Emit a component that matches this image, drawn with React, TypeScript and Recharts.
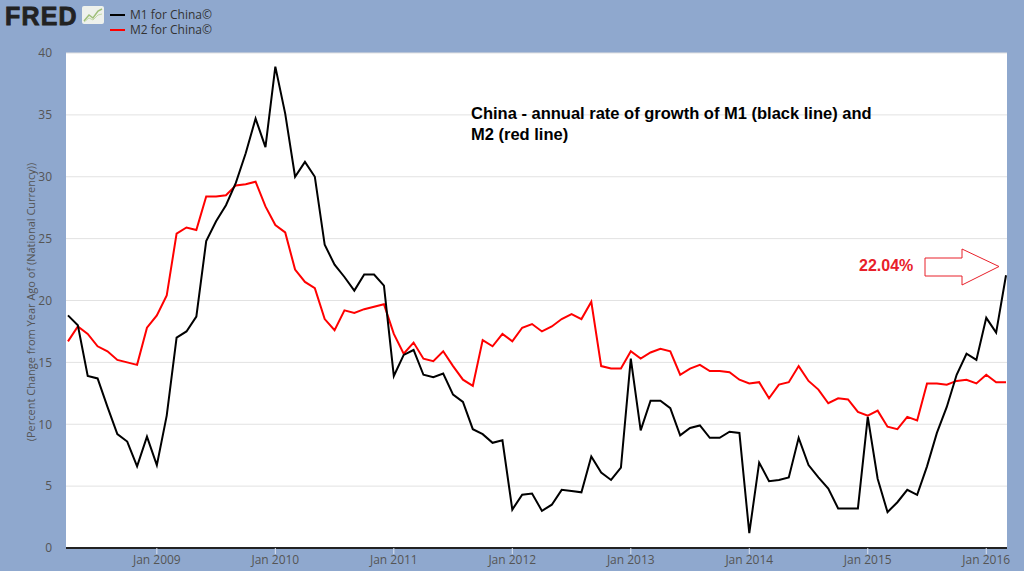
import { LineChart, Line, XAxis, YAxis, CartesianGrid } from 'recharts';

// monthly series, Apr 2008 .. Mar 2016 (96 months)
const startYear = 2008;
const startMonth = 3; // April, 0-based

const m1China = [
  18.8, 18.0, 13.9, 13.7, 11.4, 9.2, 8.6, 6.6, 9.0,
  6.7, 10.7, 17.0, 17.5, 18.7, 24.8, 26.4, 27.7, 29.5, 31.9, 34.7, 32.4,
  38.9, 35.1, 30.0, 31.2, 30.0, 24.5, 22.9, 21.9, 20.8, 22.1, 22.1, 21.2,
  13.9, 15.6, 16.0, 14.0, 13.8, 14.1, 12.4, 11.8, 9.6, 9.2, 8.5, 8.7,
  3.1, 4.3, 4.4, 3.0, 3.5, 4.7, 4.6, 4.5, 7.4, 6.1, 5.5, 6.5,
  15.3, 9.5, 11.9, 11.9, 11.3, 9.1, 9.7, 9.9, 8.9, 8.9, 9.4, 9.3,
  1.2, 6.9, 5.4, 5.5, 5.7, 8.9, 6.7, 5.7, 4.8, 3.2, 3.2, 3.2,
  10.6, 5.6, 2.9, 3.7, 4.7, 4.3, 6.6, 9.3, 11.4, 14.0, 15.7, 15.2,
  18.6, 17.4, 22.04,
];

const m2China = [
  16.7, 17.9, 17.3, 16.3, 15.9, 15.2, 15.0, 14.8, 17.8,
  18.8, 20.4, 25.4, 25.9, 25.7, 28.4, 28.4, 28.5, 29.3, 29.4, 29.6, 27.6,
  26.1, 25.5, 22.5, 21.5, 21.0, 18.5, 17.6, 19.2, 19.0, 19.3, 19.5, 19.7,
  17.3, 15.7, 16.6, 15.3, 15.1, 15.9, 14.7, 13.6, 13.1, 16.8, 16.3, 17.3,
  16.7, 17.8, 18.1, 17.5, 17.9, 18.5, 18.9, 18.5, 19.9, 14.7, 14.5, 14.5,
  15.9, 15.3, 15.8, 16.1, 15.9, 14.0, 14.5, 14.8, 14.3, 14.3, 14.2, 13.6,
  13.3, 13.4, 12.1, 13.2, 13.4, 14.7, 13.5, 12.8, 11.7, 12.1, 12.0, 11.0,
  10.7, 11.1, 9.8, 9.6, 10.6, 10.3, 13.3, 13.3, 13.2, 13.5, 13.6, 13.3,
  14.0, 13.4, 13.4,
];

const tickYears = [2009, 2010, 2011, 2012, 2013, 2014, 2015, 2016];
const yTicks = [0, 5, 10, 15, 20, 25, 30, 35, 40];

const data = m1China.map((v, i) => ({ t: i, m1: v, m2: m2China[i] }));
const xTicks = tickYears.map((y) => (y - startYear) * 12 - startMonth);
const tickLabel = (t: number) => 'Jan ' + (startYear + Math.floor((t + startMonth) / 12));

const BG = '#8fa8ce';
const RED = '#e8202a';

export default function App() {
  return (
    <div style={{ position: 'absolute', left: 0, top: 0, width: 1024, height: 571, background: BG, overflow: 'hidden', fontFamily: '"Open Sans", sans-serif' }}>
      <LineChart width={1024} height={571} data={data} margin={{ top: 53, right: 17, bottom: 0, left: 0 }}>
        <CartesianGrid horizontal vertical={false} stroke="#e2e2e2" fill="#ffffff" fillOpacity={1} />
        <XAxis
          dataKey="t"
          type="number"
          domain={[-0.2, 95.1]}
          ticks={xTicks}
          tickFormatter={tickLabel}
          height={23}
          axisLine={{ stroke: '#222', strokeWidth: 2 }}
          tickLine={{ stroke: '#dfe5f0', strokeWidth: 1 }}
          tickSize={6}
          tick={{ fill: '#555', fontSize: 12, fontFamily: '"Open Sans", sans-serif' }}
          tickMargin={1}
        />
        <YAxis
          domain={[0, 40]}
          ticks={yTicks}
          width={66}
          axisLine={false}
          tickLine={false}
          tickSize={0}
          tickMargin={14}
          tick={{ fill: '#555', fontSize: 12, fontFamily: '"Open Sans", sans-serif' }}
        />
        <Line type="linear" dataKey="m2" stroke="#ff0000" strokeWidth={2} dot={false} isAnimationActive={false} />
        <Line type="linear" dataKey="m1" stroke="#000000" strokeWidth={2} dot={false} isAnimationActive={false} />
      </LineChart>

      {/* FRED logo + legend */}
      <div style={{ position: 'absolute', left: 5, top: 2, fontFamily: '"Liberation Sans", Arial, sans-serif', fontWeight: 'bold', fontSize: 25, lineHeight: '28px', letterSpacing: 1.2, color: '#222', WebkitTextStroke: '0.8px #222' }}>FRED</div>
      <svg style={{ position: 'absolute', left: 82, top: 6 }} width={22} height={18}>
        <rect x={0} y={0} width={22} height={18} rx={2} fill="#eef1ec" />
        <polyline points="2,15 7,9 11,12 16,5 20,3" fill="none" stroke="#9fbf7a" strokeWidth={1.5} />
        <polyline points="2,16 7,12 11,14 16,9 20,8" fill="none" stroke="#c3d8a8" strokeWidth={1} />
      </svg>
      <div style={{ position: 'absolute', left: 110, top: 14, width: 15, height: 2, background: '#000' }} />
      <div style={{ position: 'absolute', left: 130, top: 6, fontSize: 12, color: '#333' }}>M1 for China©</div>
      <div style={{ position: 'absolute', left: 110, top: 29, width: 15, height: 2, background: '#ff0000' }} />
      <div style={{ position: 'absolute', left: 130, top: 21, fontSize: 12, color: '#333' }}>M2 for China©</div>

      {/* y axis title */}
      <div style={{ position: 'absolute', left: 31, top: 302, width: 400, marginLeft: -200, marginTop: -7, textAlign: 'center', transform: 'rotate(-90deg)', fontSize: 11, color: '#555', lineHeight: '14px' }}>
        (Percent Change from Year Ago of (National Currency))
      </div>

      {/* annotation */}
      <div style={{ position: 'absolute', left: 471, top: 103, fontFamily: '"Liberation Sans", Arial, sans-serif', fontWeight: 'bold', fontSize: 16.5, lineHeight: '21px', color: '#000' }}>
        China - annual rate of growth of M1 (black line) and<br />M2 (red line)
      </div>
      <div style={{ position: 'absolute', left: 859, top: 257, fontFamily: '"Liberation Sans", Arial, sans-serif', fontWeight: 'bold', fontSize: 16, color: RED }}>22.04%</div>
      <svg style={{ position: 'absolute', left: 920, top: 244 }} width={90} height={46}>
        <polygon points="5,14 42,14 42,5 79,22.5 42,41 42,32 5,32" fill="#fff" stroke={RED} strokeWidth={1} />
      </svg>
    </div>
  );
}
